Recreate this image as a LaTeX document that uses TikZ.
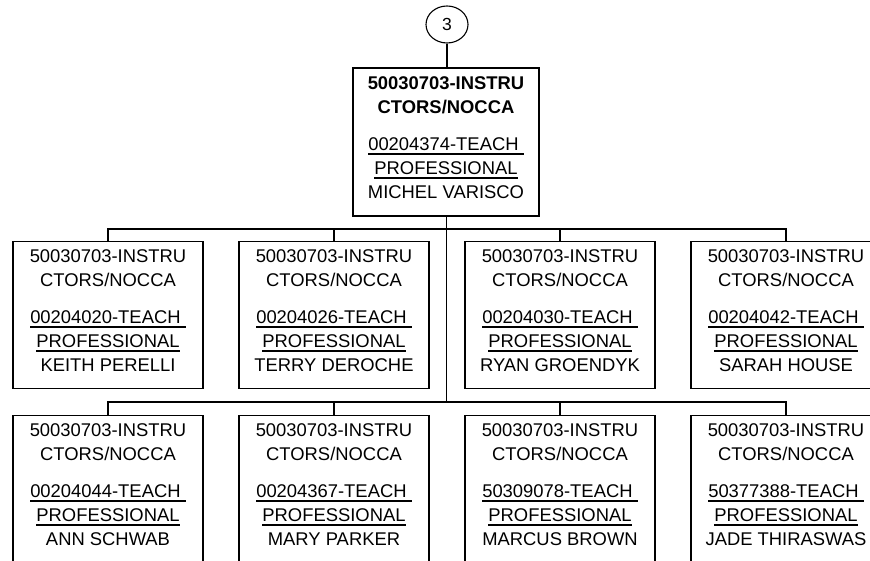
\documentclass[tikz,border=0pt]{standalone}
\usepackage{fontspec}
\setmainfont{Liberation Sans}
\usetikzlibrary{shapes.geometric,calc}
\newcommand\myul[1]{\leavevmode\setbox0\hbox{#1}\rlap{\rule[-4.4pt]{\wd0}{2pt}}\box0}
\begin{document}
\begin{tikzpicture}[x=1pt,y=-1pt,
  box/.style={draw, line width=1.3pt, fill=white, minimum width=190pt, minimum height=147pt, inner sep=0pt},
  lowbox/.style={box, minimum height=170pt},
  topbox/.style={box, minimum width=186pt, minimum height=148pt},
  txt/.style={anchor=north, align=center, inner sep=0pt, font=\fontsize{18.4}{24}\selectfont},
  wire/.style={line width=1.3pt}]
\useasboundingbox (0,0) rectangle (870,561);
\clip (0,0) rectangle (870,561);

% connector circle
\node[ellipse, draw, line width=1.1pt, minimum width=42pt, minimum height=37pt, inner sep=0pt, font=\fontsize{17.5}{20}\selectfont] (c) at (447,24.5) {3};

% top box
\node[topbox] (top) at (446,142) {};
\node[txt] (topt) at ($(top.north)+(0,9.5)$) {\textbf{50030703-INSTRU}\\\textbf{CTORS/NOCCA}\\[13pt]\myul{00204374-TEACH\ }\\\myul{PROFESSIONAL}\\MICHEL VARISCO};

% row 1
\node[box] (b1) at (108,315) {};
\node[box] (b2) at (334,315) {};
\node[box] (b3) at (560,315) {};
\node[box] (b4) at (786,315) {};
\node[txt] (b1t) at ($(b1.north)+(0,8.5)$) {50030703-INSTRU\\CTORS/NOCCA\\[13pt]\myul{00204020-TEACH\ }\\\myul{PROFESSIONAL}\\KEITH PERELLI};
\node[txt] (b2t) at ($(b2.north)+(0,8.5)$) {50030703-INSTRU\\CTORS/NOCCA\\[13pt]\myul{00204026-TEACH\ }\\\myul{PROFESSIONAL}\\TERRY DEROCHE};
\node[txt] (b3t) at ($(b3.north)+(0,8.5)$) {50030703-INSTRU\\CTORS/NOCCA\\[13pt]\myul{00204030-TEACH\ }\\\myul{PROFESSIONAL}\\RYAN GROENDYK};
\node[txt] (b4t) at ($(b4.north)+(0,8.5)$) {50030703-INSTRU\\CTORS/NOCCA\\[13pt]\myul{00204042-TEACH\ }\\\myul{PROFESSIONAL}\\SARAH HOUSE};

% row 2
\node[lowbox, anchor=north] (d1) at (108,415) {};
\node[lowbox, anchor=north] (d2) at (334,415) {};
\node[lowbox, anchor=north] (d3) at (560,415) {};
\node[lowbox, anchor=north] (d4) at (786,415) {};
\node[txt] (d1t) at ($(d1.north)+(0,8.5)$) {50030703-INSTRU\\CTORS/NOCCA\\[13pt]\myul{00204044-TEACH\ }\\\myul{PROFESSIONAL}\\ANN SCHWAB};
\node[txt] (d2t) at ($(d2.north)+(0,8.5)$) {50030703-INSTRU\\CTORS/NOCCA\\[13pt]\myul{00204367-TEACH\ }\\\myul{PROFESSIONAL}\\MARY PARKER};
\node[txt] (d3t) at ($(d3.north)+(0,8.5)$) {50030703-INSTRU\\CTORS/NOCCA\\[13pt]\myul{50309078-TEACH\ }\\\myul{PROFESSIONAL}\\MARCUS BROWN};
\node[txt] (d4t) at ($(d4.north)+(0,8.5)$) {50030703-INSTRU\\CTORS/NOCCA\\[13pt]\myul{50377388-TEACH\ }\\\myul{PROFESSIONAL}\\JADE THIRASWAS};

% connectors
\coordinate (j1) at (446.7,229);
\coordinate (j2) at (446.7,402);
\draw[wire] (c.south) -- (c.south |- top.north);
\draw[wire] (top.south -| j1) -- (j2);
\draw[wire] (b1.north) -- (b1.north |- j1) -| (b4.north);
\draw[wire] (b2.north) -- (b2.north |- j1);
\draw[wire] (b3.north) -- (b3.north |- j1);
\draw[wire] (d1.north) -- (d1.north |- j2) -| (d4.north);
\draw[wire] (d2.north) -- (d2.north |- j2);
\draw[wire] (d3.north) -- (d3.north |- j2);
\end{tikzpicture}
\end{document}
